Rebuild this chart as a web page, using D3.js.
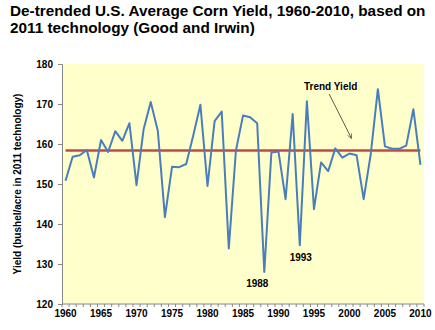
<!DOCTYPE html>
<html>
<head>
<meta charset="utf-8">
<script src="https://cdn.jsdelivr.net/npm/d3@7"></script>
<style>
  body { margin: 0; background: #fff; }
  svg text { font-family: "Liberation Sans", Arial, sans-serif; font-weight: bold; fill: #000; }
</style>
</head>
<body>
<svg id="chart"></svg>
<script>
// values
const years = d3.range(1960, 2011);
const yieldValues = [
  150.8, 156.8, 157.2, 158.5, 151.6, 161.0, 158.0, 163.2, 160.8, 165.2,
  149.7, 163.7, 170.5, 163.3, 141.7, 154.3, 154.2, 155.0, 162.2, 169.8,
  149.5, 165.7, 168.1, 133.9, 158.3, 167.1, 166.7, 165.2, 128.0, 157.9,
  158.1, 146.2, 167.5, 134.7, 170.7, 143.7, 155.4, 153.2, 158.9, 156.6,
  157.6, 157.2, 146.2, 157.5, 173.7, 159.4, 158.8, 158.8, 159.6, 168.7,
  154.8
];
const trendYield = 158.4;
const yTicks = [120, 130, 140, 150, 160, 170, 180];
const xLabels = [1960, 1965, 1970, 1975, 1980, 1985, 1990, 1995, 2000, 2005, 2010];

const width = 435, height = 330;
const margin = { top: 64, right: 11, bottom: 26, left: 62 };

const svg = d3.select('#chart')
    .attr('width', width)
    .attr('height', height);

const x = d3.scalePoint()
    .domain(years)
    .range([margin.left, width - margin.right])
    .padding(0.5);

const y = d3.scaleLinear()
    .domain([120, 180])
    .range([height - margin.bottom, margin.top]);

// plot background
svg.append('rect')
    .attr('x', margin.left)
    .attr('y', margin.top)
    .attr('width', width - margin.left - margin.right)
    .attr('height', height - margin.top - margin.bottom)
    .attr('fill', '#ffffcc');

// title
svg.append('text')
    .attr('x', 10)
    .attr('y', 16)
    .style('font-size', '15.3px')
    .text('De-trended U.S. Average Corn Yield, 1960-2010, based on');
svg.append('text')
    .attr('x', 10)
    .attr('y', 33)
    .style('font-size', '15.3px')
    .text('2011 technology (Good and Irwin)');

// y axis
const yAxis = svg.append('g')
    .attr('transform', `translate(${margin.left},0)`)
    .call(d3.axisLeft(y).tickValues(yTicks).tickSize(4).tickPadding(5));
yAxis.selectAll('text').style('font-size', '10px').style('font-family', '"Liberation Sans", Arial, sans-serif');
yAxis.selectAll('line, path').attr('stroke', '#868686');

// x axis: a tick at every category boundary
const step = x.step();
const xAxisY = height - margin.bottom;
svg.append('line')
    .attr('x1', margin.left).attr('x2', width - margin.right)
    .attr('y1', xAxisY).attr('y2', xAxisY)
    .attr('stroke', '#868686');
svg.append('g')
    .selectAll('line')
    .data(years.concat([2011]))
    .join('line')
    .attr('x1', d => x(Math.min(d, 2010)) + (d > 2010 ? step / 2 : -step / 2))
    .attr('x2', d => x(Math.min(d, 2010)) + (d > 2010 ? step / 2 : -step / 2))
    .attr('y1', xAxisY)
    .attr('y2', xAxisY + 3)
    .attr('stroke', '#868686');
svg.append('g')
    .selectAll('text')
    .data(xLabels)
    .join('text')
    .attr('x', d => x(d))
    .attr('y', xAxisY + 13)
    .attr('text-anchor', 'middle')
    .style('font-size', '10px')
    .text(d => d);

// y axis title
svg.append('text')
    .attr('transform', `translate(21,${(margin.top + height - margin.bottom) / 2}) rotate(-90)`)
    .attr('text-anchor', 'middle')
    .style('font-size', '10px')
    .text('Yield (bushel/acre in 2011 technology)');

// trend line
svg.append('line')
    .attr('x1', x(1960)).attr('x2', x(2010))
    .attr('y1', y(trendYield)).attr('y2', y(trendYield))
    .attr('stroke', '#be4b48')
    .attr('stroke-width', 2.5);

// yield series
const line = d3.line()
    .x((d, i) => x(years[i]))
    .y(d => y(d));
svg.append('path')
    .datum(yieldValues)
    .attr('d', line)
    .attr('fill', 'none')
    .attr('stroke', '#4a7ebb')
    .attr('stroke-width', 2)
    .attr('stroke-linejoin', 'round');

// annotations
svg.append('defs').append('marker')
    .attr('id', 'arrow')
    .attr('viewBox', '0 0 10 10')
    .attr('refX', 9).attr('refY', 5)
    .attr('markerWidth', 7).attr('markerHeight', 7)
    .attr('orient', 'auto')
    .append('path')
    .attr('d', 'M1,1 L9,5 L1,9')
    .attr('fill', 'none')
    .attr('stroke', '#333');

svg.append('text')
    .attr('x', 304).attr('y', 90)
    .style('font-size', '10px')
    .text('Trend Yield');
svg.append('line')
    .attr('x1', x(1997) + 1).attr('y1', 94)
    .attr('x2', x(2000) + 2).attr('y2', y(trendYield) - 12)
    .attr('stroke', '#333')
    .attr('stroke-width', 0.8)
    .attr('marker-end', 'url(#arrow)');

svg.append('text')
    .attr('x', x(1993) + 1).attr('y', 261)
    .attr('text-anchor', 'middle')
    .style('font-size', '10px')
    .text('1993');
svg.append('text')
    .attr('x', x(1988) - 7).attr('y', 287)
    .attr('text-anchor', 'middle')
    .style('font-size', '10px')
    .text('1988');
</script>
</body>
</html>
